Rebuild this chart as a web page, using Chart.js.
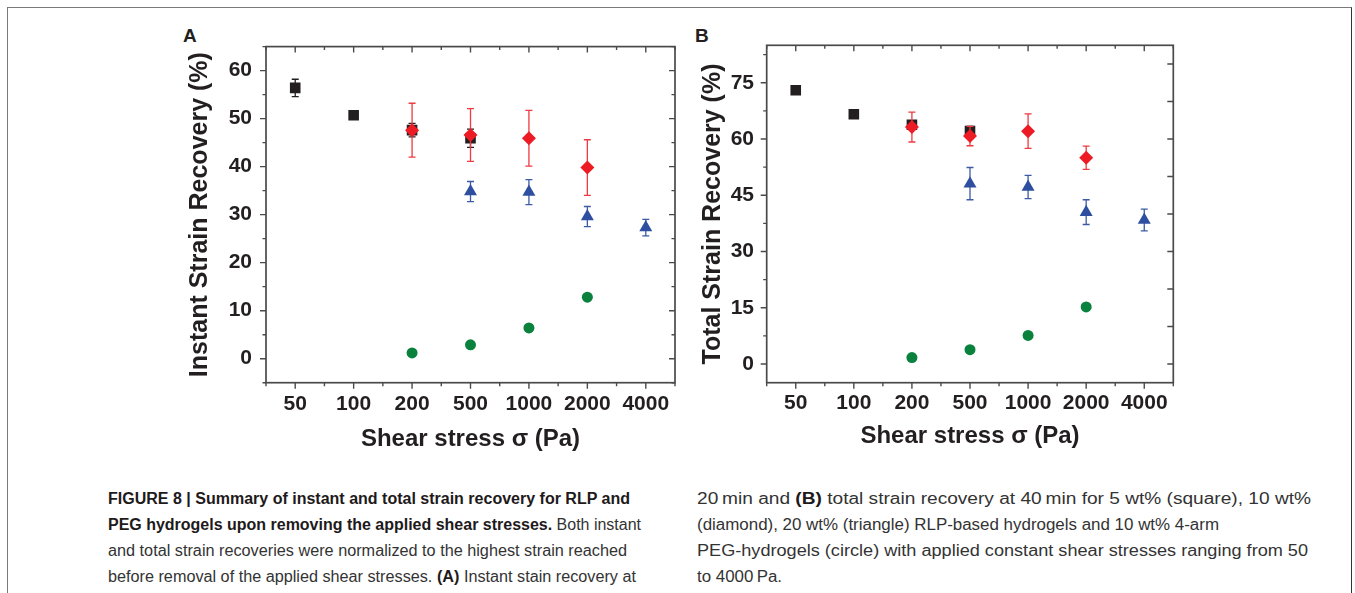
<!DOCTYPE html>
<html><head><meta charset="utf-8">
<script src="https://cdn.jsdelivr.net/npm/chart.js@4.4.1/dist/chart.umd.min.js"></script>
<style>
html,body{margin:0;padding:0;background:#fff;}
body{width:1355px;height:593px;position:relative;overflow:hidden;font-family:"Liberation Sans",Arial,sans-serif;}
#frame{position:absolute;left:7px;top:7px;width:1345px;height:620px;border-left:1.5px solid #7a7a7a;border-top:1.5px solid #7a7a7a;border-right:1.5px solid #333;box-sizing:border-box;}
canvas{position:absolute;}
#ca{left:170px;top:20px;}
#cb{left:690px;top:20px;}
.plabel{position:absolute;font:bold 19px "Liberation Sans",Arial,sans-serif;line-height:19px;color:#231f20;}
.cap{position:absolute;white-space:nowrap;font-size:16px;line-height:20px;color:#333;transform-origin:0 50%;}
.cap b{color:#1e1a1b;}
</style>
</head><body>
<div id="frame"></div>
<div class="plabel" style="left:183px;top:26px;">A</div>
<div class="plabel" style="left:695px;top:26px;">B</div>
<canvas id="ca" width="520" height="440"></canvas>
<canvas id="cb" width="500" height="440"></canvas>

<div class="cap" data-w="522" style="left:108px;top:489px;"><b>FIGURE 8 | Summary of instant and total strain recovery for RLP and</b></div>
<div class="cap" data-w="533" style="left:108px;top:515px;"><b>PEG hydrogels upon removing the applied shear stresses.</b> Both instant</div>
<div class="cap" data-w="519" style="left:108px;top:541px;">and total strain recoveries were normalized to the highest strain reached</div>
<div class="cap" data-w="528" style="left:108px;top:567px;">before removal of the applied shear stresses. <b>(A)</b> Instant stain recovery at</div>
<div class="cap" data-w="614" style="left:697px;top:489px;">20&#8201;min and <b>(B)</b> total strain recovery at 40&#8201;min for 5 wt% (square), 10 wt%</div>
<div class="cap" data-w="522" style="left:697px;top:515px;">(diamond), 20 wt% (triangle) RLP-based hydrogels and 10 wt% 4-arm</div>
<div class="cap" data-w="611" style="left:697px;top:541px;">PEG-hydrogels (circle) with applied constant shear stresses ranging from 50</div>
<div class="cap" data-w="85" style="left:697px;top:567px;">to 4000&#8201;Pa.</div>

<script>
// ---------- data ----------
const categories = ['50', '100', '200', '500', '1000', '2000', '4000'];

// Panel A: instant strain recovery (%)
const aSquare      = [56.4, 50.7, 47.6, 45.9, null, null, null];
const aSquareErr   = [1.8, 0.7, 1.4, 1.9, null, null, null];
const aDiamond     = [null, null, 47.6, 46.6, 45.9, 39.8, null];
const aDiamondErr  = [null, null, 5.6, 5.5, 5.8, 5.8, null];
const aTriangle    = [null, null, null, 34.8, 34.7, 29.6, 27.3];
const aTriangleErr = [null, null, null, 2.1, 2.6, 2.1, 1.7];
const aCircle      = [null, null, 1.2, 2.9, 6.4, 12.8, null];

// Panel B: total strain recovery (%)
const bSquare      = [73.0, 66.6, 63.8, 62.1, null, null, null];
const bSquareErr   = [0.5, 0.5, 0.8, 1.3, null, null, null];
const bDiamond     = [null, null, 63.2, 60.8, 62.1, 55.0, null];
const bDiamondErr  = [null, null, 4.0, 2.6, 4.6, 3.1, null];
const bTriangle    = [null, null, null, 48.1, 47.2, 40.5, 38.4];
const bTriangleErr = [null, null, null, 4.3, 3.1, 3.3, 2.9];
const bCircle      = [null, null, 1.7, 3.8, 7.6, 15.2, null];

// Tick values
const aYTicks      = [0, 10, 20, 30, 40, 50, 60];
const aYMinor      = [-5, 5, 15, 25, 35, 45, 55, 65];
const bYTicks      = [0, 15, 30, 45, 60, 75];
const bYMinor      = [7.5, 22.5, 37.5, 52.5, 67.5, 82.5];
const bYRightTicks = [0, 10, 20, 30, 40, 50, 60, 70, 80];

// ---------- styles ----------
const TXT = '#231f20';
const C_BLACK = '#231f20', C_RED = '#ed1c24', C_BLUE = '#2e4f9f', C_GREEN = '#0a823e';

const errorBars = {
  id: 'errorBars',
  beforeDatasetDraw(chart, args) {
    const ds = chart.data.datasets[args.index];
    if (!ds.errors) return;
    const ctx = chart.ctx, y = chart.scales.y;
    ctx.save();
    ctx.strokeStyle = ds.errorColor || ds.backgroundColor;
    ctx.lineWidth = 1.3;
    ctx.beginPath();
    args.meta.data.forEach((pt, i) => {
      const v = ds.data[i], e = ds.errors[i];
      if (v == null || e == null) return;
      const yt = y.getPixelForValue(v + e), yb = y.getPixelForValue(v - e);
      ctx.moveTo(pt.x, yt); ctx.lineTo(pt.x, yb);
      ctx.moveTo(pt.x - 3.5, yt); ctx.lineTo(pt.x + 3.5, yt);
      ctx.moveTo(pt.x - 3.5, yb); ctx.lineTo(pt.x + 3.5, yb);
    });
    ctx.stroke();
    ctx.restore();
  }
};

const frameTicks = {
  id: 'frameTicks',
  afterDraw(chart, args, opts) {
    const {ctx, chartArea: a} = chart;
    const x = chart.scales.x, y = chart.scales.y;
    ctx.save();
    ctx.strokeStyle = '#4a4a4a';
    ctx.lineWidth = 1.7;
    ctx.strokeRect(a.left, a.top, a.right - a.left, a.bottom - a.top);
    ctx.lineWidth = 1.4;
    ctx.beginPath();
    const n = chart.data.labels.length;
    const px = i => x.getPixelForValue(i);
    for (let i = 0; i < n; i++) {
      const p = px(i);
      ctx.moveTo(p, a.bottom); ctx.lineTo(p, a.bottom + 6);
      ctx.moveTo(p, a.top); ctx.lineTo(p, a.top + 6);
    }
    const mids = [a.left, a.right];
    for (let i = 0; i < n - 1; i++) mids.push((px(i) + px(i + 1)) / 2);
    mids.forEach(p => {
      ctx.moveTo(p, a.bottom); ctx.lineTo(p, a.bottom + 3.5);
      ctx.moveTo(p, a.top); ctx.lineTo(p, a.top + 3.5);
    });
    const yl = (vals, x0, x1) => vals.forEach(v => {
      const p = y.getPixelForValue(v);
      if (p < a.top - 0.5 || p > a.bottom + 0.5) return;
      ctx.moveTo(x0, p); ctx.lineTo(x1, p);
    });
    yl(opts.leftMajor, a.left - 6, a.left);
    yl(opts.leftMinor, a.left - 3.5, a.left);
    yl(opts.rightMajor, a.right - 6, a.right);
    yl(opts.rightMinor, a.right - 3.5, a.right);
    ctx.stroke();
    ctx.restore();
  }
};

function series(data, errors, style, radius, color, errColor, order) {
  return {
    data, errors, errorColor: errColor,
    showLine: false, pointStyle: style, pointRadius: radius, pointHoverRadius: radius,
    backgroundColor: color, borderColor: color, pointBorderWidth: 0, borderWidth: 0, order
  };
}

function makeChart(id, datasets, yMin, yMax, yTicks, yTitle, frameOpts, L) {
  new Chart(document.getElementById(id), {
    type: 'line',
    data: {labels: categories, datasets},
    options: {
      responsive: false, animation: false, devicePixelRatio: 1,
      layout: {padding: {left: 0, top: L.top, right: L.right, bottom: 0}},
      plugins: {legend: {display: false}, tooltip: {enabled: false}, frameTicks: frameOpts},
      scales: {
        x: {
          type: 'category', offset: true,
          grid: {display: false, drawTicks: false}, border: {display: false},
          ticks: {padding: L.xPad, color: TXT, autoSkip: false, maxRotation: 0,
                  font: {family: 'Liberation Sans', weight: 'bold', size: 21}},
          title: {display: true, text: 'Shear stress σ (Pa)', color: TXT,
                  font: {family: 'Liberation Sans', weight: 'bold', size: 24},
                  padding: {top: 0, bottom: L.xtPad}},
          afterFit(s) { s.height = L.xH; }
        },
        y: {
          min: yMin, max: yMax,
          grid: {display: false, drawTicks: false}, border: {display: false},
          afterBuildTicks(s) { s.ticks = yTicks.map(v => ({value: v})); },
          ticks: {padding: L.yPad, color: TXT,
                  font: {family: 'Liberation Sans', weight: 'bold', size: 21}},
          title: {display: true, text: yTitle, color: TXT,
                  font: {family: 'Liberation Sans', weight: 'bold', size: 25},
                  padding: {top: L.ytPad, bottom: 0}},
          afterFit(s) { s.width = L.yW; }
        }
      }
    },
    plugins: [errorBars, frameTicks]
  });
}

makeChart('ca', [
  series(aDiamond, aDiamondErr, 'rectRot', 7, C_RED, '#ee3b41', 1),
  series(aSquare, aSquareErr, 'rect', 7.5, C_BLACK, C_BLACK, 2),
  series(aTriangle, aTriangleErr, 'triangle', 7.5, C_BLUE, '#3d5aa6', 3),
  series(aCircle, null, 'circle', 5.5, C_GREEN, C_GREEN, 4)
], -5, 65, aYTicks, 'Instant Strain Recovery (%)',
  {leftMajor: aYTicks, leftMinor: aYMinor, rightMajor: aYTicks, rightMinor: aYMinor},
  {top: 20.5, right: 15, xH: 77.3, yW: 96, xPad: 8.8, xtPad: 6.6, yPad: 14, ytPad: 15.6});

makeChart('cb', [
  series(bDiamond, bDiamondErr, 'rectRot', 7, C_RED, '#ee3b41', 1),
  series(bSquare, bSquareErr, 'rect', 7.5, C_BLACK, C_BLACK, 2),
  series(bTriangle, bTriangleErr, 'triangle', 7.5, C_BLUE, '#3d5aa6', 3),
  series(bCircle, null, 'circle', 5.5, C_GREEN, C_GREEN, 4)
], -5, 85, bYTicks, 'Total Strain Recovery (%)',
  {leftMajor: bYTicks, leftMinor: bYMinor, rightMajor: bYRightTicks, rightMinor: []},
  {top: 22.7, right: 16.7, xH: 77.3, yW: 76.7, xPad: 7.5, xtPad: 8.9, yPad: 12.7, ytPad: 8.1});

// fit caption lines to the reference line widths
document.querySelectorAll('.cap').forEach(el => {
  const w = parseFloat(el.dataset.w);
  const actual = el.getBoundingClientRect().width;
  if (w && actual) el.style.transform = 'scaleX(' + (w / actual).toFixed(4) + ')';
});
</script>
</body></html>
